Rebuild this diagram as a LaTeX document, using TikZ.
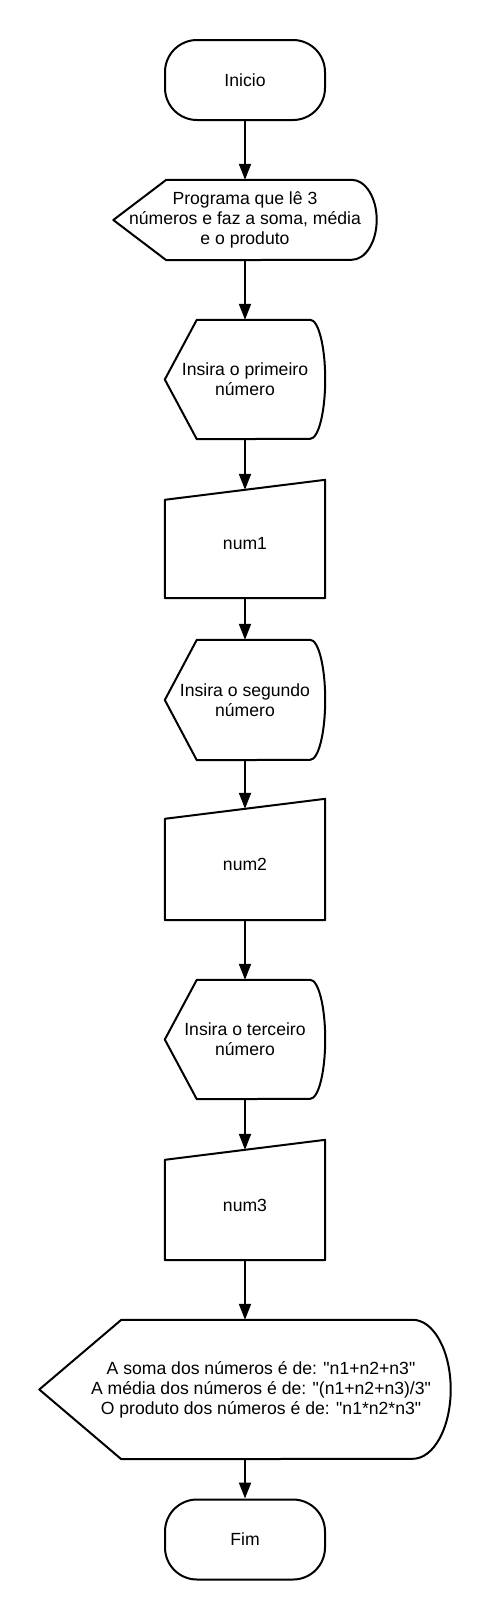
\documentclass[tikz,border=0pt]{standalone}
\usepackage{fontspec}
\setmainfont{Liberation Sans}[Ligatures=TeXOff]
\usetikzlibrary{arrows.meta}

\tikzset{
  every node/.style={font=\fontsize{17.6}{20}\selectfont, align=center, inner sep=0pt},
  outline/.style={draw, line width=2pt, line join=round},
  terminal/.style={outline, rounded corners=32pt, minimum width=160pt, minimum height=80pt},
  flow/.style={line width=2pt, -{Triangle[length=16pt,width=12pt]}},
}

% display shape round a named node: node, tip, round, half height
\newcommand{\displayoutline}[4]{%
  \draw[outline] (#1.west) -- ([xshift=#2]#1.north west) -- ([xshift=-#3]#1.north east)
    arc[start angle=90, end angle=-90, x radius=#3, y radius=#4]
    -- ([xshift=#2]#1.south west) -- cycle;}

% manual input shape round a named node: node, half slope
\newcommand{\manualoutline}[2]{%
  \draw[outline] ([yshift=-#2]#1.north west) -- ([yshift=#2]#1.north east)
    -- (#1.south east) -- (#1.south west) -- cycle;}

\begin{document}
\begin{tikzpicture}[x=1pt,y=1pt]
    \useasboundingbox (0,0) rectangle (490,-1620);

    \node[terminal] (inicio) at (245,-80) {Inicio};

    \node[minimum width=263pt, minimum height=80pt] (prog) at (245,-220)
      {Programa que lê 3\\números e faz a soma, média\\e o produto};
    \displayoutline{prog}{53pt}{25pt}{40pt}

    \node[minimum width=160pt, minimum height=119pt] (ask1) at (245,-379.5)
      {Insira o primeiro\\número};
    \displayoutline{ask1}{32pt}{15pt}{59.5pt}

    \node[minimum width=160pt, minimum height=108pt] (num1) at (245,-544) {num1};
    \manualoutline{num1}{10pt}

    \node[minimum width=160pt, minimum height=120pt] (ask2) at (245,-700)
      {Insira o segundo\\número};
    \displayoutline{ask2}{32pt}{15pt}{60pt}

    \node[minimum width=160pt, minimum height=111pt] (num2) at (245,-864.5) {num2};
    \manualoutline{num2}{10pt}

    \node[minimum width=160pt, minimum height=119pt] (ask3) at (245,-1039.5)
      {Insira o terceiro\\número};
    \displayoutline{ask3}{32pt}{15pt}{59.5pt}

    \node[minimum width=160pt, minimum height=110pt] (num3) at (245,-1205) {num3};
    \manualoutline{num3}{10pt}

    \node[minimum width=411pt, minimum height=139pt] (result) at (245,-1389.5)
      {\hspace*{32pt}A soma dos números é de: "n1+n2+n3"\\
       \hspace*{32pt}A média dos números é de: "(n1+n2+n3)/3"\\
       \hspace*{32pt}O produto dos números é de: "n1*n2*n3"};
    \displayoutline{result}{82pt}{38pt}{69.5pt}

    \node[terminal] (fim) at (245,-1539.5) {Fim};

    \draw[flow] (inicio) -- (prog);
    \draw[flow] (prog) -- (ask1);
    \draw[flow] (ask1) -- (num1);
    \draw[flow] (num1) -- (ask2);
    \draw[flow] (ask2) -- (num2);
    \draw[flow] (num2) -- (ask3);
    \draw[flow] (ask3) -- (num3);
    \draw[flow] (num3) -- (result);
    \draw[flow] (result) -- (fim);

  \end{tikzpicture}
\end{document}
